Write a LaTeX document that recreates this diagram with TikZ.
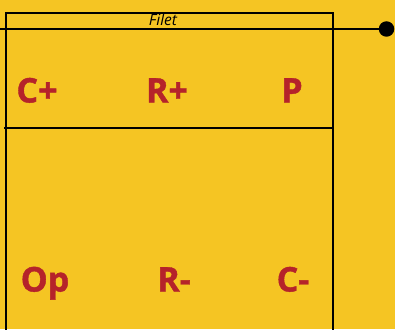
\documentclass[tikz,border=0pt]{standalone}
\usepackage{fontspec}
\setmainfont{Open Sans}
\newfontfamily\lblfont{Open Sans}[UprightFeatures={FakeBold=0},BoldFeatures={FakeBold=1.2}]
\definecolor{bgyellow}{HTML}{F5C523}
\definecolor{lblred}{HTML}{B5232A}
\begin{document}
\begin{tikzpicture}[x=1pt,y=-1pt,
  frame/.style={draw=black,line width=1.7pt},
  lbl/.style={text=lblred,font=\lblfont\fontsize{34}{36}\selectfont\bfseries,anchor=base,inner sep=0pt},
  ftxt/.style={font=\fontsize{15.5}{16}\selectfont\itshape,anchor=base,inner sep=0pt}]
\fill[bgyellow] (0,0) rectangle (395,329);
\useasboundingbox (0,0) rectangle (395,329);
\draw[frame] (6,335) -- (6,12.7) -- (333,12.7) -- (333,335);
\draw[frame] (4,128) -- (333,128);
\node[fill=black,circle,inner sep=0pt,minimum size=15.5pt] (dot) at (386.5,29) {};
\coordinate (lstart) at (-2,29);
\draw[frame] (lstart) -- (dot);
\node[ftxt] (filet) at (163,26) {Filet};
\node[lbl] (cp) at (37,102.5) {C+};
\node[lbl] (rp) at (167,102.5) {R+};
\node[lbl] (p) at (292,102.5) {P};
\node[lbl] (op) at (45,291.5) {Op};
\node[lbl] (rm) at (174,291.5) {R-};
\node[lbl] (cm) at (293,291.5) {C-};
\end{tikzpicture}
\end{document}
